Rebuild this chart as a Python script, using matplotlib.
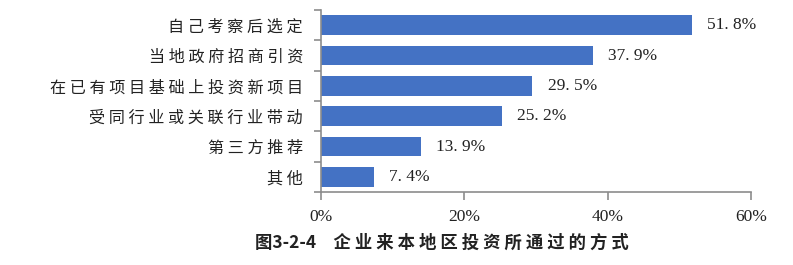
import numpy as np
import matplotlib.pyplot as plt
from matplotlib.ticker import FixedLocator, PercentFormatter

plt.rcParams['font.family'] = ['Noto Sans CJK SC', 'DejaVu Sans']

categories = ['自己考察后选定', '当地政府招商引资', '在已有项目基础上投资新项目',
              '受同行业或关联行业带动', '第三方推荐', '其他']
values = [51.8, 37.9, 29.5, 25.2, 13.9, 7.4]
xticks = [0, 20, 40, 60]
fig_no = '图3-2-4'
title = '企业来本地区投资所通过的方式'

bar_color = '#4472C4'
axis_color = '#8c8c8c'
serif = ['Liberation Serif', 'DejaVu Serif']

fig = plt.figure(figsize=(7.93, 2.65), dpi=100)
ax = fig.add_axes([0.405, 0.275, 0.542, 0.687])

y = np.arange(len(categories))
ax.barh(y, values, height=0.65, color=bar_color)
ax.set_ylim(len(categories) - 0.5, -0.5)
ax.set_xlim(0, 60)

# spaced labels to mimic wide CJK letter spacing
spaced = [' '.join(c) for c in categories]
ax.set_yticks(y)
ax.set_yticklabels(spaced, fontsize=11.6, color='#222222')
ax.tick_params(axis='y', which='major', length=0, pad=13)
ax.yaxis.set_minor_locator(FixedLocator(np.arange(-0.5, len(categories), 1.0)))
ax.tick_params(axis='y', which='minor', length=5, color=axis_color, width=1.2)

ax.set_xticks(xticks)
ax.xaxis.set_major_formatter(PercentFormatter(decimals=0))
ax.tick_params(axis='x', length=6, color=axis_color, width=1.2, pad=6,
               labelsize=12.5, labelcolor='#222222')
for lab in ax.get_xticklabels():
    lab.set_family(serif)

for s in ['top', 'right']:
    ax.spines[s].set_visible(False)
for s in ['left', 'bottom']:
    ax.spines[s].set_color(axis_color)
    ax.spines[s].set_linewidth(1.2)

for yi, v in zip(y, values):
    txt = f'{v:.1f}%'.replace('.', '. ')
    ax.text(v + 2.1, yi, txt, va='center', ha='left', fontsize=12.5,
            family=serif, color='#222222')

fig.text(0.557, 0.085, fig_no + '\u3000' + ' '.join(title), ha='center', va='center',
         fontsize=12.5, fontweight='bold', color='#222222')

fig.savefig('out.png', dpi=100)
